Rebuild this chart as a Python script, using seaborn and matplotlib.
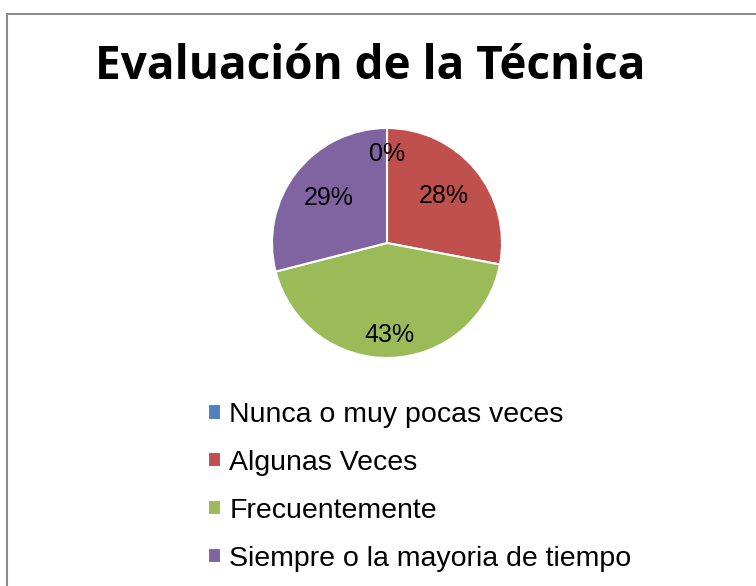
import matplotlib
matplotlib.use("Agg")
import matplotlib.pyplot as plt
import seaborn as sns
from matplotlib.patches import Rectangle

# data
categorias = ["Nunca o muy pocas veces", "Algunas Veces", "Frecuentemente",
              "Siempre o la mayoria de tiempo"]
porcentajes = [0, 28, 43, 29]
colores = ["#4F81BD", "#C0504D", "#9BBB59", "#8064A2"]
titulo = "Evaluación de la Técnica"

sns.set_theme(style="white")
plt.rcParams["font.family"] = ["Liberation Sans", "DejaVu Sans"]
plt.rcParams["text.color"] = "black"

fig = plt.figure(figsize=(7.56, 5.86), dpi=100)

# gray chart border (runs off right and bottom edges)
fig.patches.append(Rectangle((7 / 756, -0.05), 1.2, 1 - 14 / 586 + 0.05,
                             transform=fig.transFigure, fill=False,
                             edgecolor="#8c8c8c", linewidth=1.5))

# pie axes
cx, cy, r = 387, 243, 115
ax = fig.add_axes([(cx - r) / 756, (586 - cy - r) / 586, 2 * r / 756, 2 * r / 586])
wedges, texts, autotexts = ax.pie(
    porcentajes, colors=colores, startangle=90, counterclock=False,
    autopct=lambda p: f"{p:.0f}%", pctdistance=0.64, radius=1,
    wedgeprops=dict(edgecolor="white", linewidth=1.5),
    textprops=dict(fontsize=18, color="black"))
# excel style placement: 0% and 43% sit further out
for i, d in ((0, 0.77), (2, 0.8)):
    x, y = autotexts[i].get_position()
    autotexts[i].set_position((x * d / 0.64, y * d / 0.64))
ax.set_xlim(-1.0, 1.0)
ax.set_ylim(-1.0, 1.0)
ax.set_aspect("equal")
ax.axis("off")

fig.text(370 / 756, 1 - 79 / 586, titulo, ha="center", va="baseline",
         fontsize=33, fontweight="bold", color="black",
         family=["Open Sans", "DejaVu Sans"])

fig.legend(wedges, categorias, loc="upper left",
           bbox_to_anchor=(208 / 756, 1 - 402 / 586), frameon=False,
           fontsize=20.5, handlelength=0.45, handleheight=0.45,
           handletextpad=0.3, labelspacing=0.77, borderpad=0,
           borderaxespad=0)

fig.savefig("out.png", dpi=100)
